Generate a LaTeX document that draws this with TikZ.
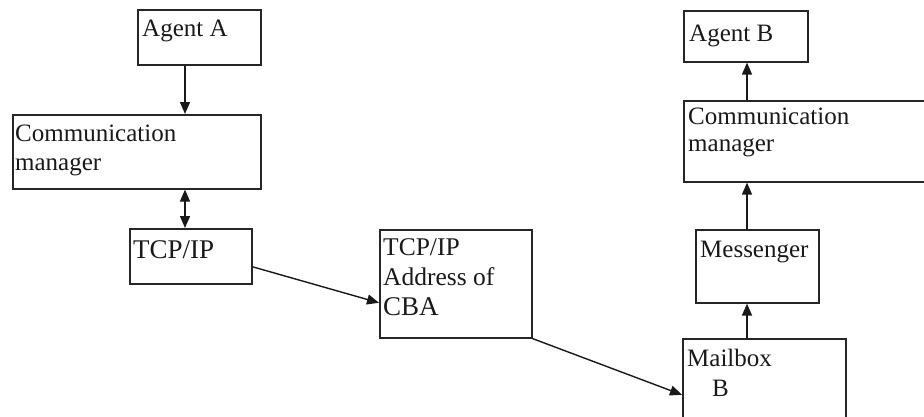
\documentclass[tikz,border=0pt]{standalone}
\usepackage{fontspec}
\setmainfont{Liberation Serif}
\usetikzlibrary{arrows.meta}
\begin{document}
\begin{tikzpicture}[x=1pt,y=-1pt,
  blk/.style={draw=black!85,line width=1.6pt,anchor=north west,inner sep=0pt},
  txt/.style={anchor=north west,inner sep=0pt,align=left,text=black!90,font=\fontsize{25}{28.5}\selectfont},
  arr/.style={draw=black!90,line width=1.4pt,-{Triangle[length=12pt,width=10pt]}},
  darr/.style={draw=black!90,line width=1.4pt,{Triangle[length=12pt,width=10pt]}-{Triangle[length=12pt,width=10pt]}}]
\useasboundingbox (0,0) rectangle (924,416);
\node[blk,minimum width=123pt,minimum height=55pt] (agA) at (137,9) {};
\node[blk,minimum width=248pt,minimum height=74pt] (cmA) at (12,114) {};
\node[blk,minimum width=122pt,minimum height=55pt] (tcpA) at (129,228) {};
\node[blk,minimum width=152pt,minimum height=108pt] (cba) at (379,229) {};
\node[blk,minimum width=163pt,minimum height=82pt] (mbox) at (682,338) {};
\node[blk,minimum width=123pt,minimum height=73pt] (msgr) at (695,229) {};
\node[blk,minimum width=250pt,minimum height=81pt] (cmB) at (683,100) {};
\node[blk,minimum width=124pt,minimum height=51pt] (agB) at (683,10) {};
\node[txt] (tagA) at (142,20) {Agent A};
\node[txt] (tcmA) at (15,125) {Communication\\manager};
\node[txt,font=\fontsize{27}{30}\selectfont] (ttcpA) at (133,240) {TCP/IP};
\node[txt,font=\fontsize{25.5}{30}\selectfont] (tcba) at (383,238) {TCP/IP\\Address of\\\fontsize{27}{30}\selectfont CBA};
\node[txt,font=\fontsize{25}{30}\selectfont] (tmbox) at (687,349) {Mailbox\\\hspace*{25pt}B};
\node[txt] (tmsgr) at (700,241) {Messenger};
\node[txt,font=\fontsize{25}{27}\selectfont] (tcmB) at (688,108) {Communication\\manager};
\node[txt] (tagB) at (689,25) {Agent B};
\coordinate (xL) at (185,0);
\coordinate (xR) at (747,0);
\draw[arr] (agA.south -| xL) -- (cmA.north -| xL);
\draw[darr] (cmA.south -| xL) -- (tcpA.north -| xL);
\draw[arr] ([yshift=-10.5pt]tcpA.east) -- ([yshift=-19pt]cba.west);
\draw[arr] (cba.south east) -- ([yshift=-15pt]mbox.west);
\draw[arr] (mbox.north -| xR) -- (msgr.south -| xR);
\draw[arr] (msgr.north -| xR) -- (cmB.south -| xR);
\draw[arr] (cmB.north -| xR) -- (agB.south -| xR);
\end{tikzpicture}
\end{document}
